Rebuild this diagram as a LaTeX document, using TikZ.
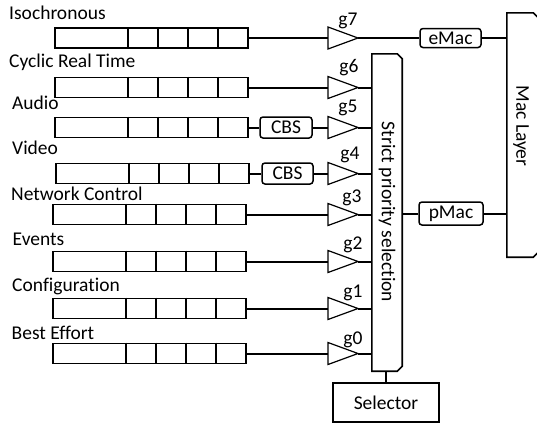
\documentclass[tikz,border=0pt]{standalone}
\usepackage{fontspec}
\setmainfont[Ligatures=NoCommon]{Carlito}
\begin{document}
\begin{tikzpicture}[x=1pt,y=-1pt,font=\fontsize{19.5}{23}\selectfont,
  qbox/.style={draw,line width=1.8pt,minimum width=193pt,minimum height=20pt,inner sep=0pt},
  qdiv/.style={line width=1.5pt},
  conn/.style={line width=2pt},
  gatetri/.style={line width=1.2pt,line join=miter},
  lab/.style={anchor=base west,inner sep=0pt},
  glab/.style={inner sep=0pt},
  rbox/.style={draw,rounded corners=3pt,line width=1.5pt,inner sep=0pt},
  chshape/.style={rectangle,inner sep=0pt},
  choutline/.style={line width=1.6pt,line join=miter},
]
\useasboundingbox (0,0) rectangle (537,426);
% queues
\foreach \n/\x/\y/\lx/\ly/\t in {1/54/38/9/19.5/Isochronous,2/54/87.5/9/67/Cyclic Real Time,
    3/54/127.5/12/109/Audio,4/55/173.5/12/154/Video,5/52/214.5/11/200/Network Control,
    6/52/261.5/12.5/245/Events,7/52/308.5/12/291/Configuration,8/52/353.5/11.5/339/Best Effort}{
  \node[qbox,anchor=west] (q\n) at (\x,\y) {};
  \foreach \d in {74,104,134,164}
    \draw[qdiv] ([xshift=\d pt]q\n.north west) -- ([xshift=\d pt]q\n.south west);
  \node[lab] (l\n) at (\lx,\ly) {\t};
}
% gates
\foreach \n/\y/\gx/\gy in {7/38/348/21,6/87.5/349/68,5/127.5/348/108,4/173.5/350/155,
    3/214.5/352/198,2/261.5/353/245,1/308.5/353/293,0/353.5/353/340}{
  \coordinate (gi\n) at (328,\y);
  \coordinate (go\n) at (358,\y);
  \draw[gatetri] (328,{\y-11}) -- (go\n) -- (328,{\y+11}) -- cycle;
  \node[glab] (gl\n) at (\gx,\gy) {g\n};
}
% boxes
\node[rbox,minimum width=52pt,minimum height=21pt] (cbsA) at (286,127.5) {CBS};
\node[rbox,minimum width=51pt,minimum height=21pt] (cbsV) at (287.5,173.5) {CBS};
\node[rbox,minimum width=61pt,minimum height=19pt] (emac) at (450.5,38) {eMac};
\node[rbox,minimum width=64pt,minimum height=23pt] (pmac) at (451,213.5) {pMac};
\node[chshape,minimum width=30pt,minimum height=317pt] (sps) at (387,212.5) {};
\draw[choutline] (sps.north west) -- ([xshift=-5pt]sps.north east) -- ([yshift=-5pt]sps.north east)
  -- ([yshift=5pt]sps.south east) -- ([xshift=-5pt]sps.south east) -- (sps.south west) -- cycle;
\node[rotate=-90,inner sep=0pt] (spst) at (387,212) {Strict priority selection};
\node[chshape,minimum width=31pt,minimum height=244pt] (mac) at (522.5,135) {};
\draw[choutline] (mac.north west) -- ([xshift=-5pt]mac.north east) -- ([yshift=-5pt]mac.north east)
  -- ([yshift=5pt]mac.south east) -- ([xshift=-5pt]mac.south east) -- (mac.south west) -- cycle;
\node[rotate=-90,inner sep=0pt] (mact) at (521,126) {Mac Layer};
\node[draw,line width=1.2pt,minimum width=106pt,minimum height=39pt,inner sep=0pt] (sel) at (386,402.5) {Selector};
% connectors
\draw[conn] (q1.east) -- (gi7);
\draw[conn] (go7) -- (emac.west);
\draw[conn] (emac.east) -- (emac.east -| mac.west);
\draw[conn] (q2.east) -- (gi6);
\draw[conn] (go6) -- (go6 -| sps.west);
\draw[conn] (q3.east) -- (cbsA.west);
\draw[conn] (cbsA.east) -- (gi5);
\draw[conn] (go5) -- (go5 -| sps.west);
\draw[conn] (q4.east) -- (cbsV.west);
\draw[conn] (cbsV.east) -- (gi4);
\draw[conn] (go4) -- (go4 -| sps.west);
\draw[conn] (q5.east) -- (gi3);
\draw[conn] (go3) -- (go3 -| sps.west);
\draw[conn] (q6.east) -- (gi2);
\draw[conn] (go2) -- (go2 -| sps.west);
\draw[conn] (q7.east) -- (gi1);
\draw[conn] (go1) -- (go1 -| sps.west);
\draw[conn] (q8.east) -- (gi0);
\draw[conn] (go0) -- (go0 -| sps.west);
\draw[conn] (pmac.west -| sps.east) -- (pmac.west);
\draw[conn] (pmac.east) -- (pmac.east -| mac.west);
\draw[conn] (sel.north) -- (sel.north |- sps.south);
\end{tikzpicture}
\end{document}
